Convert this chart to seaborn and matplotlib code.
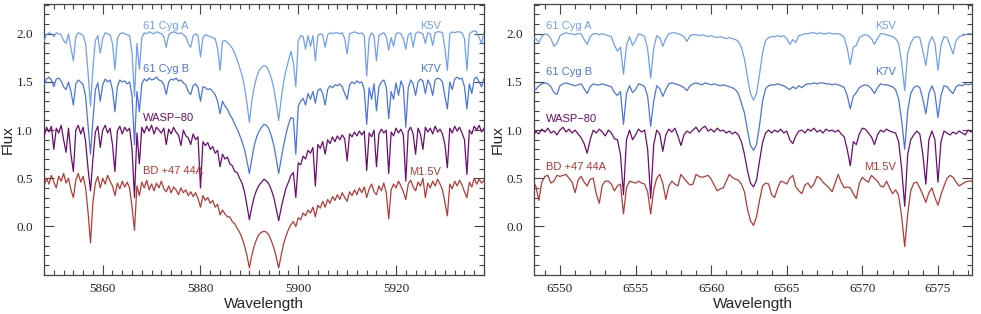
import numpy as np
import pandas as pd
import seaborn as sns
import matplotlib.pyplot as plt
from matplotlib.ticker import MultipleLocator, FixedLocator

# wavelength sampling of the two panels (Angstrom)
wl_left = np.round(5848.0 + 0.5 * np.arange(181), 2)
wl_right = np.round(6548.2 + 0.2 * np.arange(147), 2)

# ---- Na D region (left panel), fluxes offset per star ----
cyg_a_left = [
    1.92, 1.99, 2.01, 2.0, 1.97, 2.01, 2.0, 1.99, 1.93, 1.90,
    2.0, 1.85, 1.72, 1.97, 2.01, 2.0, 1.98, 1.9, 1.6, 1.25,
    1.65, 1.93, 1.98, 1.8, 1.95, 2.01, 2.0, 1.99, 1.9, 1.63,
    1.95, 2.0, 2.01, 2.0, 1.99, 1.98, 1.8, 1.35, 1.9, 1.63,
    1.96, 2.01, 2.0, 2.02, 2.01, 2.0, 2.02, 2.01, 2.0, 1.97,
    1.86, 1.99, 2.01, 2.02, 2.01, 2.0, 2.01, 1.99, 1.97, 1.9,
    1.86, 1.98, 2.0, 1.98, 1.76, 1.96, 1.99, 1.98, 1.97, 1.96,
    1.95, 1.85, 1.62, 1.92, 1.93, 1.91, 1.88, 1.85, 1.8, 1.73,
    1.65, 1.57, 1.45, 1.28, 1.08, 1.3, 1.45, 1.55, 1.62, 1.65,
    1.67, 1.66, 1.61, 1.54, 1.43, 1.28, 1.1, 1.32, 1.5, 1.62,
    1.72, 1.82, 1.7, 1.45, 1.93, 1.98, 1.97, 1.84, 1.98, 1.87,
    1.98, 1.72, 1.98, 2.0, 1.99, 1.86, 1.99, 2.01, 2.0, 2.01,
    2.01, 2.0, 2.01, 1.95, 1.79, 2.0, 2.01, 2.02, 2.01, 2.0,
    2.01, 1.98, 1.56, 1.95, 2.01, 1.98, 1.72, 1.98, 2.0, 2.01,
    1.97, 1.83, 1.96, 1.87, 2.0, 2.01, 2.0, 1.95, 1.84, 1.99,
    2.01, 1.86, 2.0, 2.02, 2.01, 2.0, 1.9, 2.01, 2.0, 1.88,
    2.01, 2.02, 2.02, 2.01, 1.85, 1.62, 2.0, 2.02, 2.01, 2.02,
    2.02, 2.01, 1.95, 1.62, 2.0, 2.02, 2.03, 2.02, 1.96, 1.9,
    2.02,
]
cyg_b_left = [
    1.47, 1.53, 1.55, 1.52, 1.45, 1.53, 1.54, 1.51, 1.45, 1.42,
    1.5, 1.4, 1.26, 1.48, 1.52, 1.5, 1.47, 1.35, 1.05, 0.75,
    1.1, 1.42, 1.49, 1.3, 1.47, 1.53, 1.5, 1.52, 1.42, 1.19,
    1.45, 1.52, 1.5, 1.51, 1.48, 1.5, 1.35, 0.85, 1.4, 1.19,
    1.48, 1.53, 1.51, 1.54, 1.52, 1.53, 1.55, 1.52, 1.51, 1.47,
    1.37, 1.5, 1.53, 1.52, 1.54, 1.51, 1.52, 1.49, 1.47, 1.4,
    1.37, 1.46, 1.48, 1.44, 1.3, 1.45, 1.44, 1.42, 1.43, 1.4,
    1.37, 1.3, 1.17, 1.3, 1.25, 1.22, 1.16, 1.12, 1.06, 1.01,
    0.95, 0.88, 0.8, 0.68, 0.55, 0.7, 0.84, 0.93, 0.99, 1.03,
    1.06, 1.05, 1.01, 0.94, 0.84, 0.7, 0.55, 0.7, 0.84, 0.96,
    1.06, 1.13, 1.12, 0.75, 1.25, 1.3, 1.33, 1.26, 1.38, 1.32,
    1.4, 1.28, 1.41, 1.43, 1.38, 1.26, 1.42, 1.46, 1.44, 1.47,
    1.46, 1.48, 1.45, 1.38, 1.32, 1.47, 1.5, 1.48, 1.51, 1.49,
    1.5, 1.42, 1.06, 1.44, 1.32, 1.48, 1.2, 1.45, 1.5, 1.52,
    1.45, 1.12, 1.4, 1.32, 1.49, 1.36, 1.51, 1.45, 1.03, 1.44,
    1.52, 1.48, 1.36, 1.5, 1.53, 1.51, 1.38, 1.52, 1.47, 1.36,
    1.52, 1.54, 1.53, 1.5, 1.35, 1.22, 1.5, 1.42, 1.53, 1.55,
    1.53, 1.54, 1.45, 1.22, 1.48, 1.38, 1.53, 1.55, 1.5, 1.45,
    1.54,
]
wasp_left = [
    0.93, 1.03, 0.98, 1.04, 0.8, 1.02, 0.97, 1.05, 0.9, 0.77,
    1.02, 0.75, 0.57, 1.0, 1.05, 0.96, 1.03, 0.88, 0.6, 0.37,
    0.7, 0.98, 1.04, 0.82, 1.0, 1.05, 0.97, 1.02, 0.85, 0.57,
    0.99, 1.04, 0.96, 1.03, 0.99, 1.02, 0.8, 0.3, 0.97, 0.65,
    1.03, 0.97, 1.04, 0.99, 1.05, 0.96, 1.03, 1.0, 0.97, 1.02,
    0.85, 1.01, 0.96, 1.03, 0.98, 0.95, 0.84, 1.0, 0.94, 0.92,
    0.85, 0.96, 0.9, 0.93, 0.4, 0.88, 0.84, 0.87, 0.8, 0.83,
    0.76, 0.79, 0.62, 0.75, 0.7, 0.72, 0.65, 0.63, 0.57, 0.56,
    0.5, 0.45, 0.36, 0.22, 0.07, 0.2, 0.31, 0.38, 0.43, 0.46,
    0.49, 0.47, 0.44, 0.38, 0.3, 0.18, 0.06, 0.19, 0.3, 0.4,
    0.46, 0.53, 0.56, 0.3, 0.66, 0.64, 0.73, 0.7, 0.79, 0.76,
    0.82, 0.42, 0.85, 0.81, 0.88, 0.75, 0.9, 0.86, 0.93, 0.88,
    0.94, 0.9, 0.95, 0.91, 0.68, 0.96, 0.93, 0.98, 0.94, 0.99,
    0.95, 0.99, 0.58, 0.97, 0.93, 1.0, 0.62, 0.96, 1.01, 0.97,
    1.0, 0.55, 0.98, 0.94, 1.02, 0.97, 1.01, 0.95, 0.47, 0.99,
    1.03, 0.96, 0.75, 1.02, 0.96, 0.8, 1.03, 0.98, 1.02, 0.96,
    1.04, 0.98, 1.01, 0.96, 0.85, 0.61, 1.02, 0.97, 1.04, 0.99,
    1.03, 0.97, 0.9, 0.54, 1.0, 0.96, 1.04, 1.0, 1.05, 0.98,
    1.02,
]
bd_left = [
    0.42, 0.5, 0.44, 0.53, 0.46, 0.4, 0.52, 0.47, 0.55, 0.45,
    0.5, 0.38, 0.3, 0.48, 0.55, 0.46, 0.52, 0.4, 0.15, -0.17,
    0.25, 0.45, 0.52, 0.4, 0.5, 0.44, 0.53, 0.47, 0.42, 0.32,
    0.45, 0.39, 0.47, 0.41, 0.46, 0.4, 0.2, -0.04, 0.42, 0.32,
    0.46, 0.4, 0.48, 0.38, 0.44, 0.37, 0.45, 0.4, 0.47, 0.39,
    0.36, 0.42, 0.35, 0.41, 0.38, 0.33, 0.4, 0.35, 0.38, 0.32,
    0.36, 0.31, 0.35, 0.29, 0.2, 0.32, 0.27, 0.3, 0.24, 0.27,
    0.2, 0.23, 0.12, 0.17, 0.13, 0.1, 0.1, 0.05, 0.03, -0.02,
    -0.06, -0.12, -0.2, -0.3, -0.43, -0.3, -0.2, -0.13, -0.08, -0.06,
    -0.05, -0.06, -0.09, -0.15, -0.22, -0.32, -0.43, -0.3, -0.18, -0.1,
    -0.03, 0.02, 0.05, 0.0, 0.09, 0.07, 0.14, 0.11, 0.17, 0.14,
    0.2, 0.1, 0.22, 0.19, 0.26, 0.2, 0.28, 0.24, 0.31, 0.27,
    0.33, 0.28, 0.35, 0.3, 0.26, 0.36, 0.32, 0.38, 0.33, 0.4,
    0.35, 0.41, 0.3, 0.39, 0.44, 0.36, 0.33, 0.42, 0.37, 0.45,
    0.35, 0.08, 0.38, 0.44, 0.4, 0.47, 0.42, 0.36, 0.28, 0.44,
    0.48, 0.41, 0.37, 0.46, 0.42, 0.5, 0.3, 0.45, 0.4, 0.47,
    0.42, 0.49, 0.44, 0.38, 0.25, 0.11, 0.44, 0.39, 0.47, 0.42,
    0.48, 0.43, 0.36, 0.3, 0.46, 0.41, 0.5, 0.44, 0.49, 0.45,
    0.48,
]

# ---- H-alpha region (right panel) ----
cyg_a_right = [
    1.96, 1.95, 1.91, 1.97, 2.0, 1.99, 1.95, 1.87, 1.9, 1.98,
    2.0, 2.01, 2.0, 2.0, 1.99, 2.0, 2.0, 1.94, 1.89, 1.97,
    2.0, 2.0, 1.99, 2.0, 1.99, 1.98, 1.97, 1.88, 1.82, 1.86,
    1.58, 1.88, 1.97, 1.88, 1.93, 2.0, 1.99, 1.97, 1.84, 1.54,
    1.85, 1.98, 1.96, 1.87, 1.95, 2.0, 2.01, 2.01, 2.0, 1.99,
    1.97, 1.92, 1.98, 1.99, 1.99, 1.98, 1.99, 1.98, 1.97, 1.98,
    1.97, 1.96, 1.97, 1.96, 1.95, 1.96, 1.95, 1.94, 1.92, 1.86,
    1.74, 1.55, 1.38, 1.31, 1.38, 1.58, 1.8, 1.93, 1.96, 1.97,
    1.97, 1.98, 1.97, 1.98, 1.95, 1.89, 1.94, 1.91, 1.98, 1.99,
    2.0, 2.0, 2.01, 2.01, 2.0, 2.01, 2.0, 2.0, 2.01, 2.0,
    2.0, 2.0, 1.99, 1.96, 1.85, 1.68, 1.86, 1.88, 1.96, 1.98,
    1.99, 1.98, 1.95, 1.89, 1.95, 2.0, 2.0, 1.99, 1.98, 1.97,
    1.95, 1.9, 1.7, 1.41, 1.8, 1.9, 1.96, 1.97, 1.96, 1.82,
    1.67, 1.9, 1.97, 1.9, 1.62, 1.88, 1.97, 1.96, 1.88, 1.79,
    1.93, 1.97, 1.98, 1.99, 2.0, 2.0, 2.0,
]
cyg_b_right = [
    1.44, 1.42, 1.46, 1.48, 1.49, 1.48, 1.45, 1.39, 1.37, 1.46,
    1.48, 1.49, 1.48, 1.47, 1.46, 1.47, 1.48, 1.43, 1.38, 1.45,
    1.48, 1.47, 1.47, 1.48, 1.47, 1.46, 1.45, 1.39, 1.36, 1.4,
    1.06, 1.38, 1.46, 1.39, 1.42, 1.48, 1.47, 1.45, 1.35, 1.04,
    1.3, 1.46, 1.43, 1.35, 1.42, 1.48, 1.49, 1.48, 1.47, 1.46,
    1.44, 1.41, 1.46, 1.48, 1.49, 1.48, 1.47, 1.49, 1.48, 1.47,
    1.48, 1.47, 1.46, 1.47, 1.46, 1.45, 1.44, 1.42, 1.38, 1.28,
    1.18, 1.0, 0.84, 0.79, 0.85, 1.05, 1.3, 1.43, 1.46, 1.47,
    1.47, 1.48, 1.47, 1.46, 1.44, 1.42, 1.45, 1.43, 1.46, 1.44,
    1.47, 1.48, 1.48, 1.49, 1.48, 1.49, 1.49, 1.48, 1.48, 1.47,
    1.48, 1.47, 1.46, 1.44, 1.36, 1.22, 1.35, 1.39, 1.44, 1.46,
    1.47, 1.46, 1.43, 1.38, 1.44, 1.48, 1.47, 1.47, 1.46, 1.45,
    1.42, 1.32, 1.1, 0.8, 1.2, 1.38, 1.44, 1.46, 1.44, 1.32,
    1.17, 1.38, 1.46, 1.38, 1.13, 1.36, 1.46, 1.45, 1.41, 1.38,
    1.45, 1.47, 1.46, 1.48, 1.47, 1.48, 1.47,
]
wasp_right = [
    0.92, 0.99, 0.96, 1.01, 0.98, 1.02, 0.97, 0.99, 0.95, 1.0,
    1.03, 0.98, 1.01, 0.97, 1.0, 0.96, 0.92, 0.86, 0.76, 0.9,
    1.0, 0.97, 1.01, 0.98, 0.94, 1.0, 0.97, 0.91, 0.9, 0.75,
    0.33, 0.9, 1.0, 0.9, 0.95, 1.01, 0.98, 1.0, 0.8, 0.29,
    0.85, 1.0, 0.96, 0.78, 0.95, 1.01, 0.98, 1.02, 0.94, 0.84,
    0.95, 0.99, 0.97, 1.0, 1.03, 0.98, 1.02, 1.04, 0.99, 1.01,
    0.98, 1.02, 0.99, 1.0, 0.97, 0.99, 0.96, 0.98, 0.95, 0.88,
    0.75, 0.58, 0.45, 0.41, 0.48, 0.68, 0.87, 0.97, 1.0, 0.97,
    1.0, 0.98, 1.01, 0.97, 0.99, 0.9, 0.86, 0.94, 0.99, 1.0,
    0.97, 1.01, 0.99, 1.02, 0.98, 1.0, 0.97, 1.01, 0.99, 1.0,
    0.98, 1.0, 0.96, 0.93, 0.8, 0.63, 0.88, 0.85, 0.96, 1.02,
    1.01, 0.97, 0.93, 0.85, 0.95, 1.0, 0.98, 1.01, 0.99, 0.98,
    0.97, 0.88, 0.6, 0.21, 0.75, 0.9, 0.95, 0.99, 0.96, 0.75,
    0.44, 0.9, 0.99, 0.9, 0.46, 0.88, 0.99, 0.97, 0.95, 0.98,
    0.96, 0.99, 0.97, 0.95, 1.0, 0.98, 0.99,
]
bd_right = [
    0.47, 0.42, 0.27, 0.46, 0.52, 0.53, 0.45, 0.47, 0.53, 0.52,
    0.53, 0.54, 0.5, 0.46, 0.35, 0.48, 0.52, 0.46, 0.42, 0.49,
    0.5, 0.34, 0.24, 0.43, 0.47, 0.47, 0.44, 0.37, 0.42, 0.44,
    0.13, 0.4, 0.47, 0.46, 0.45, 0.47, 0.45, 0.44, 0.36, 0.13,
    0.38, 0.5, 0.54, 0.45, 0.28, 0.42, 0.47, 0.44, 0.42, 0.54,
    0.5, 0.46, 0.43, 0.44, 0.54, 0.52, 0.51, 0.52, 0.53, 0.49,
    0.43, 0.37, 0.39, 0.4, 0.47, 0.54, 0.51, 0.49, 0.48, 0.44,
    0.36, 0.18, 0.06, 0.01, 0.1, 0.27, 0.42, 0.45, 0.44, 0.33,
    0.3, 0.4, 0.47, 0.46, 0.44, 0.5, 0.53, 0.41, 0.37, 0.34,
    0.43, 0.45, 0.4, 0.44, 0.52, 0.5, 0.46, 0.43, 0.4, 0.36,
    0.45, 0.54, 0.46, 0.4, 0.41, 0.4, 0.34, 0.29, 0.45, 0.51,
    0.48, 0.46, 0.53, 0.5, 0.47, 0.42, 0.41, 0.47, 0.4, 0.34,
    0.38, 0.32, 0.1, -0.21, 0.13, 0.37, 0.45, 0.46, 0.4, 0.33,
    0.25, 0.35, 0.4, 0.3, 0.22, 0.33, 0.42, 0.5, 0.53, 0.51,
    0.46, 0.42, 0.44, 0.46, 0.47, 0.47, 0.48,
]

stars = ["61 Cyg A", "61 Cyg B", "WASP\u221280", "BD +47 44A"]
colors = ["#6f9ff2", "#4a74e0", "#6b0d6e", "#b23b36"]

# label positions: (x, y) for name on left and spectral type on right
left_names = [(5868.2, 2.08), (5868.2, 1.63), (5868.2, 1.13), (5868.2, 0.58)]
left_types = [("K5V", 5929.2, 2.08), ("K7V", 5929.2, 1.63), ("M1.5V", 5929.2, 0.56)]
right_names = [(6549.1, 2.08), (6549.1, 1.60), (6549.1, 1.12), (6549.1, 0.62)]
right_types = [("K5V", 6572.2, 2.08), ("K7V", 6572.2, 1.60), ("M1.5V", 6572.2, 0.62)]
type_colors = [colors[0], colors[1], colors[3]]

sns.set_style("ticks")
plt.rcParams["font.family"] = ["Liberation Sans", "DejaVu Sans"]

fig = plt.figure(figsize=(9.81, 3.14), dpi=100)
ax1 = fig.add_axes([0.0449, 0.1245, 0.4485, 0.8631])
ax2 = fig.add_axes([0.5443, 0.1245, 0.4465, 0.8631])

left_df = pd.DataFrame({"wl": wl_left, stars[0]: cyg_a_left, stars[1]: cyg_b_left,
                        stars[2]: wasp_left, stars[3]: bd_left})
right_df = pd.DataFrame({"wl": wl_right, stars[0]: cyg_a_right, stars[1]: cyg_b_right,
                         stars[2]: wasp_right, stars[3]: bd_right})

for ax, df in [(ax1, left_df), (ax2, right_df)]:
    for i, star in enumerate(stars):
        sns.lineplot(data=df, x="wl", y=star, ax=ax, color=colors[i],
                     linewidth=0.9, sort=False, zorder=5 - i)

ax1.set_xlim(5848.0, 5938.0)
ax2.set_xlim(6548.28, 6577.25)
ax1.xaxis.set_major_locator(MultipleLocator(20))
ax1.xaxis.set_minor_locator(MultipleLocator(2))
ax2.xaxis.set_major_locator(MultipleLocator(5))
ax2.xaxis.set_minor_locator(MultipleLocator(1))

for ax in (ax1, ax2):
    ax.set_ylim(-0.503, 2.31)
    ax.yaxis.set_major_locator(FixedLocator([0.0, 0.5, 1.0, 1.5, 2.0]))
    ax.yaxis.set_minor_locator(MultipleLocator(0.1))
    ax.tick_params(which="both", direction="in", top=True, right=True,
                   color="#444444", width=0.8)
    ax.tick_params(which="major", length=7)
    ax.tick_params(which="minor", length=3.5)
    ax.tick_params(axis="x", pad=6)
    ax.tick_params(axis="y", pad=8)
    for lab in ax.get_xticklabels() + ax.get_yticklabels():
        lab.set_fontfamily("Liberation Serif")
        lab.set_fontsize(9.5)
    ax.yaxis.set_major_formatter(plt.FuncFormatter(lambda v, p: f"{v:.1f}"))
    for sp in ax.spines.values():
        sp.set_color("#444444")
        sp.set_linewidth(0.9)
    ax.set_xlabel("Wavelength", fontsize=11)
    ax.set_ylabel("Flux", fontsize=11)
    ax.xaxis.set_label_coords(0.5, -0.083)
    ax.yaxis.set_label_coords(-0.066, 0.5)

for ax, names, types in [(ax1, left_names, left_types), (ax2, right_names, right_types)]:
    for i, (x, y) in enumerate(names):
        ax.text(x, y, stars[i], color=colors[i], fontsize=8, ha="left", va="center")
    for j, (t, x, y) in enumerate(types):
        ax.text(x, y, t, color=type_colors[j], fontsize=8, ha="right", va="center")

for ax in (ax1, ax2):
    for lab in ax.get_xticklabels() + ax.get_yticklabels():
        lab.set_fontfamily("Liberation Serif")
        lab.set_fontsize(9.5)

fig.savefig("out.png", dpi=100)
